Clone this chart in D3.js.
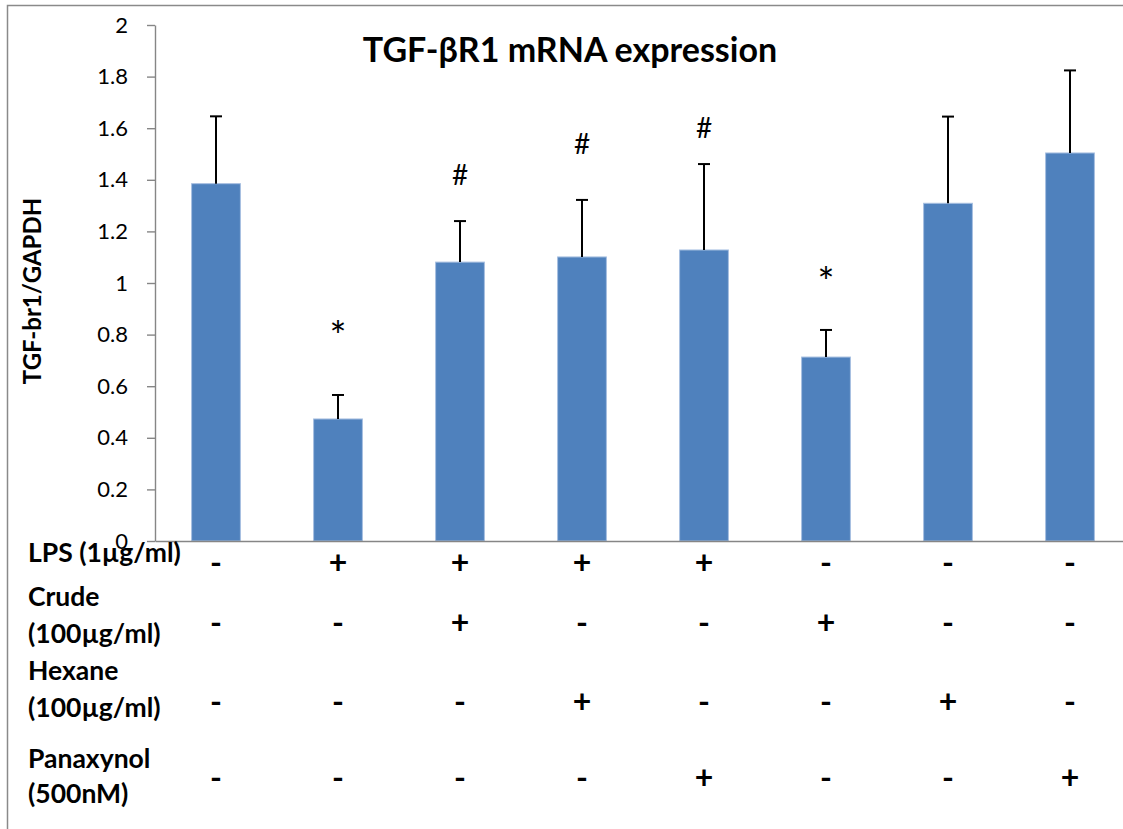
<!DOCTYPE html>
<html>
<head>
<meta charset="utf-8">
<script src="https://cdn.jsdelivr.net/npm/d3@7"></script>
<style>
body { margin: 0; background: #fff; }
text { font-family: Lato, "Open Sans", sans-serif; fill: #000; }
</style>
</head>
<body>
<div id="chart"></div>
<script>
var groups = ["Control", "LPS", "LPS+Crude", "LPS+Hexane", "LPS+Panaxynol", "Crude", "Hexane", "Panaxynol"];
var means = [1.385, 0.473, 1.081, 1.101, 1.128, 0.713, 1.309, 1.504];
var upperErr = [0.261, 0.093, 0.159, 0.221, 0.333, 0.105, 0.336, 0.320];
var marks = ["", "*", "#", "#", "#", "*", "", ""];
var markLevel = [0, 0.83, 1.42, 1.54, 1.60, 1.04, 0, 0];
var yTicks = [0, 0.2, 0.4, 0.6, 0.8, 1, 1.2, 1.4, 1.6, 1.8, 2];

var rowLabels = [["LPS (1µg/ml)"], ["Crude", "(100µg/ml)"], ["Hexane", "(100µg/ml)"], ["Panaxynol", "(500nM)"]];
var lpsSigns = ["-", "+", "+", "+", "+", "-", "-", "-"];
var crudeSigns = ["-", "-", "+", "-", "-", "+", "-", "-"];
var hexaneSigns = ["-", "-", "-", "+", "-", "-", "+", "-"];
var panaxynolSigns = ["-", "-", "-", "-", "+", "-", "-", "+"];

var W = 1123, H = 829;
var plot = {l: 155, r: 1131, t: 25, b: 541};

var svg = d3.select("#chart").append("svg")
    .attr("width", W)
    .attr("height", H);

// outer chart frame
svg.append("rect")
    .attr("x", 7.5).attr("y", 5.5)
    .attr("width", W + 20).attr("height", H + 20)
    .attr("fill", "none")
    .attr("stroke", "#8a8a8a")
    .attr("stroke-width", 1.5);

var x = d3.scaleBand().range([plot.l, plot.r])
    .domain(groups)
    .paddingInner(0.6)
    .paddingOuter(0.3);

var y = d3.scaleLinear().range([plot.b, plot.t])
    .domain([0, 2]);

// y axis
var yAx = svg.append("g")
    .attr("transform", "translate(" + plot.l + ",0)")
    .call(d3.axisLeft(y).tickValues(yTicks).tickSize(8).tickSizeOuter(0).tickPadding(19)
        .tickFormat(function(d) { return String(d); }));
yAx.selectAll("path, line").attr("stroke", "#868686").attr("stroke-width", 1.4);
yAx.selectAll("text").style("font-size", "22px").style("font-family", "Lato, sans-serif").attr("fill", "#000");

// bars
svg.selectAll(".bar").data(groups).enter()
    .append("rect").attr("class", "bar")
    .attr("x", function(d) { return x(d); })
    .attr("y", function(d, i) { return y(means[i]); })
    .attr("width", x.bandwidth())
    .attr("height", function(d, i) { return y(0) - y(means[i]); })
    .attr("fill", "#4f81bd")
    .attr("stroke", "#a7bfe0")
    .attr("stroke-width", 1);

// upper error bars
var err = svg.selectAll(".err").data(groups).enter()
    .append("g").attr("class", "err")
    .attr("stroke", "#000").attr("stroke-width", 2);
err.append("line")
    .attr("x1", function(d) { return x(d) + x.bandwidth() / 2; })
    .attr("x2", function(d) { return x(d) + x.bandwidth() / 2; })
    .attr("y1", function(d, i) { return y(means[i]); })
    .attr("y2", function(d, i) { return y(means[i] + upperErr[i]); });
err.append("line")
    .attr("x1", function(d) { return x(d) + x.bandwidth() / 2 - 6; })
    .attr("x2", function(d) { return x(d) + x.bandwidth() / 2 + 6; })
    .attr("y1", function(d, i) { return y(means[i] + upperErr[i]); })
    .attr("y2", function(d, i) { return y(means[i] + upperErr[i]); });

// x axis line
var xAx = svg.append("g")
    .attr("transform", "translate(0," + plot.b + ")")
    .call(d3.axisBottom(x).tickValues([]).tickSizeOuter(0));
xAx.select("path").attr("stroke", "#868686").attr("stroke-width", 1.4);

// significance marks
svg.selectAll(".mark").data(groups).enter()
    .append("text").attr("class", "mark")
    .filter(function(d, i) { return marks[i] !== ""; })
    .attr("x", function(d) { return x(d) + x.bandwidth() / 2; })
    .attr("y", function(d) { return y(markLevel[groups.indexOf(d)]); })
    .attr("dy", function(d) { return marks[groups.indexOf(d)] === "*" ? "0.6em" : "0.36em"; })
    .attr("text-anchor", "middle")
    .style("font-size", function(d) { return marks[groups.indexOf(d)] === "*" ? "40px" : "28px"; })
    .text(function(d) { return marks[groups.indexOf(d)]; });

// title
svg.append("text")
    .attr("x", 570).attr("y", 62)
    .attr("text-anchor", "middle")
    .style("font-size", "34px").style("font-weight", "bold")
    .text("TGF-βR1 mRNA expression");

// y axis title
svg.append("text")
    .attr("transform", "translate(41,291) rotate(-90)")
    .attr("text-anchor", "middle")
    .style("font-size", "24px").style("font-weight", "bold")
    .text("TGF-br1/GAPDH");

// treatment table below the axis
var labelBase = [[562], [606, 643], [680, 717], [768, 803]];
var signRowY = [563, 623, 702, 778];
var signRows = [lpsSigns, crudeSigns, hexaneSigns, panaxynolSigns];

rowLabels.forEach(function(lines, r) {
    lines.forEach(function(s, k) {
        svg.append("text")
            .attr("x", 28).attr("y", labelBase[r][k])
            .style("font-size", "26.5px").style("font-weight", "bold")
            .text(s);
    });
    svg.selectAll(".sign" + r).data(groups).enter()
        .append("text").attr("class", "sign" + r)
        .attr("x", function(d) { return x(d) + x.bandwidth() / 2; })
        .attr("y", signRowY[r])
        .attr("dy", "0.33em")
        .attr("text-anchor", "middle")
        .style("font-size", "32px").style("font-weight", "bold")
        .text(function(d, i) { return signRows[r][i]; });
});
</script>
</body>
</html>
